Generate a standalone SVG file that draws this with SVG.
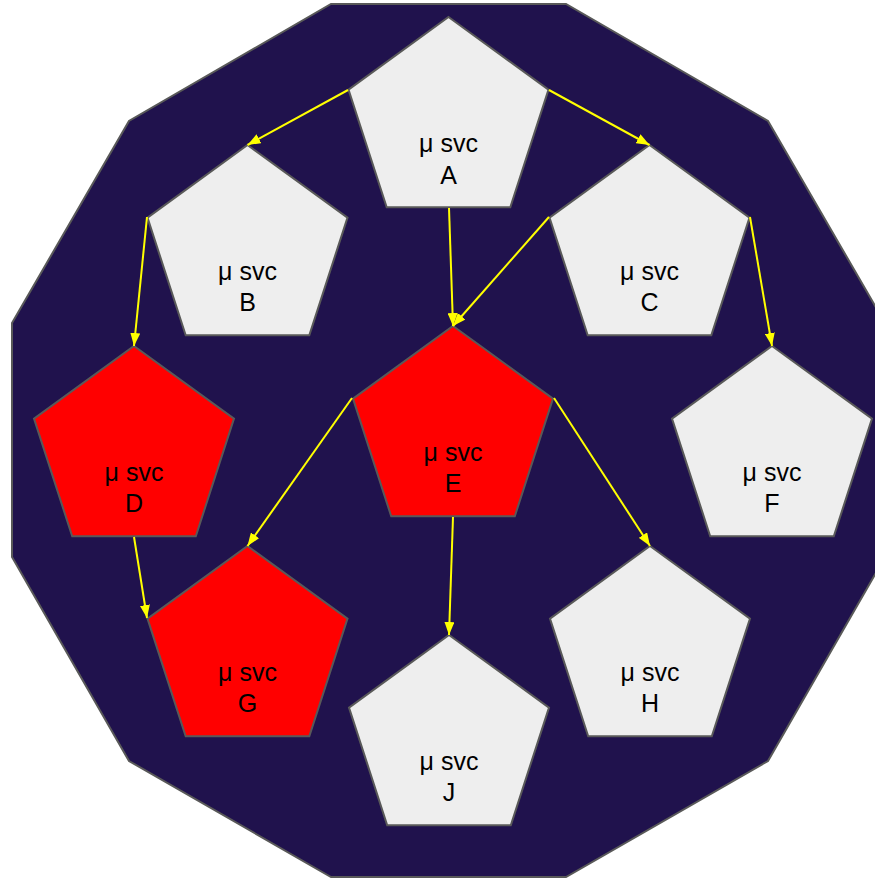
<svg xmlns="http://www.w3.org/2000/svg" width="875" height="879" viewBox="0 0 875 879">
<style>
.bg{fill:#20124d;stroke:#595959;stroke-width:2}
.p{stroke:#595959;stroke-width:2;stroke-linejoin:miter}
.g{fill:#eeeeee}
.r{fill:#ff0000}
.t{font-family:"Liberation Sans",Arial,sans-serif;font-size:25px;fill:#000;text-anchor:middle}
.c{stroke:#ffff00;stroke-width:2;fill:none}
</style>
<defs>
<polygon id="pent" points="0,0 100,72.6 61.8,190.2 -61.8,190.2 -100,72.6"/>
<marker id="ah" markerUnits="userSpaceOnUse" markerWidth="14" markerHeight="10" refX="13" refY="5" orient="auto">
<path d="M0,0 L13,5 L0,10 z" fill="#ffff00"/>
</marker>
</defs>
<polygon class="bg" points="331,4 566,4 768,121 885,323 885,557 768,761 566,877 331,877 129,761 12,557 12,323 129,121"/>
<g id="A"><use href="#pent" class="p g" x="448.5" y="17"/><text class="t" x="448.5" y="152">μ svc</text><text class="t" x="448.5" y="184">A</text></g>
<g id="B"><use href="#pent" class="p g" x="247.5" y="145"/><text class="t" x="247.5" y="280">μ svc</text><text class="t" x="247.5" y="311">B</text></g>
<g id="C"><use href="#pent" class="p g" x="649.5" y="145"/><text class="t" x="649.5" y="280">μ svc</text><text class="t" x="649.5" y="311">C</text></g>
<g id="D"><use href="#pent" class="p r" x="134" y="346"/><text class="t" x="134" y="481">μ svc</text><text class="t" x="134" y="512">D</text></g>
<g id="E"><use href="#pent" class="p r" x="453" y="326"/><text class="t" x="453" y="461">μ svc</text><text class="t" x="453" y="492">E</text></g>
<g id="F"><use href="#pent" class="p g" x="772" y="346"/><text class="t" x="772" y="481">μ svc</text><text class="t" x="772" y="512">F</text></g>
<g id="G"><use href="#pent" class="p r" x="247.5" y="546"/><text class="t" x="247.5" y="681">μ svc</text><text class="t" x="247.5" y="712">G</text></g>
<g id="H"><use href="#pent" class="p g" x="650" y="546"/><text class="t" x="650" y="681">μ svc</text><text class="t" x="650" y="712">H</text></g>
<g id="J"><use href="#pent" class="p g" x="449" y="635"/><text class="t" x="449" y="770">μ svc</text><text class="t" x="449" y="801">J</text></g>
<g id="connectors">
<line class="c" x1="348" y1="90" x2="247.5" y2="145" marker-end="url(#ah)"/>
<line class="c" x1="549" y1="90" x2="649.5" y2="145" marker-end="url(#ah)"/>
<line class="c" x1="449" y1="208" x2="453" y2="326" marker-end="url(#ah)"/>
<line class="c" x1="549" y1="217" x2="453" y2="326" marker-end="url(#ah)"/>
<line class="c" x1="750" y1="217" x2="772" y2="346" marker-end="url(#ah)"/>
<line class="c" x1="147" y1="217" x2="134" y2="346" marker-end="url(#ah)"/>
<line class="c" x1="352" y1="398" x2="247.5" y2="546" marker-end="url(#ah)"/>
<line class="c" x1="554" y1="398" x2="650" y2="546" marker-end="url(#ah)"/>
<line class="c" x1="453" y1="517" x2="449" y2="635" marker-end="url(#ah)"/>
<line class="c" x1="134" y1="537" x2="147" y2="618" marker-end="url(#ah)"/>
</g>
</svg>
